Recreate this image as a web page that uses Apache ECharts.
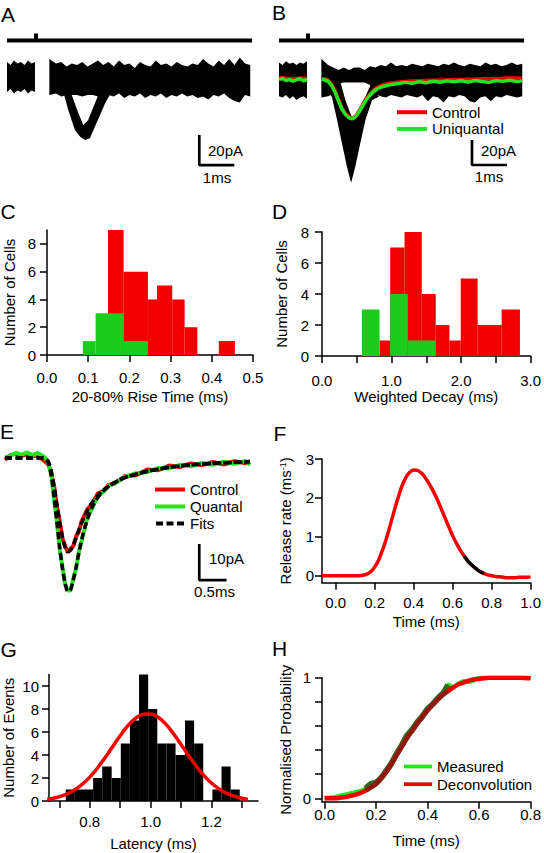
<!DOCTYPE html>
<html><head><meta charset="utf-8">
<script src="https://cdn.jsdelivr.net/npm/echarts@6/dist/echarts.min.js"></script>
<style>html,body{margin:0;padding:0;background:#fff}#c{width:544px;height:853px}</style>
</head><body><div id="c"></div>
<script>
// ================= DATA =================
// Panels A/B: stimulus trace (ms, pA)
const stimTime = [0, 0.83, 0.83, 0.83, 7.0];
const stimA = [26.3, 26.3, 31, 26.3, 26.3];
const stimB = [31.6, 31.6, 37.2, 31.6, 31.6];
// Panel A: noise band (pre-stimulus and post-stimulus), pA
const preT = [0, 0.1, 0.2, 0.3, 0.4, 0.5, 0.6, 0.7, 0.8];
const aPreUp = [12, 10, 13, 11, 12, 10, 13, 11, 12];
const aPreLo = [-8, -6, -9, -7, -8, -6, -9, -7, -8];
const bandT = [1.21, 1.4, 1.55, 1.7, 1.85, 2.0, 2.15, 2.3, 2.45, 2.6, 2.75, 2.9, 3.05, 3.2, 3.35, 3.5, 3.65, 3.8, 3.95, 4.1, 4.25, 4.4, 4.55, 4.7, 4.85, 5.0, 5.15, 5.3, 5.45, 5.6, 5.75, 5.9, 6.05, 6.2, 6.35, 6.5, 6.65, 6.8, 6.95];
const aUp = [14, 11, 12, 9, 11, 10, 12, 9, 11, 13, 10, 12, 9, 13, 10, 11, 8, 12, 10, 9, 13, 10, 11, 9, 12, 10, 9, 11, 10, 14, 11, 9, 13, 10, 14, 10, 15, 11, 10];
const aLo = [-10, -9, -11, -10, -10, -10, -11, -10, -10, -11, -12, -10, -11, -9, -12, -10, -11, -9, -12, -10, -11, -9, -12, -10, -11, -9, -11, -10, -12, -11, -13, -10, -11, -9, -12, -14, -15, -10, -11];
// Panel A: envelope of the evoked EPSCs
const aDipOutT = [1.55, 1.61, 1.75, 1.94, 2.09, 2.23, 2.37, 2.51, 2.66, 2.8, 2.94];
const aDipOutV = [-6, -8, -20, -33.3, -37.8, -40, -38.9, -31.1, -23.3, -15.6, -9.8];
const aDipInT = [1.85, 2.04, 2.18, 2.32, 2.47, 2.61];
const aDipInV = [-10, -22.2, -30, -26.7, -17.8, -10];
// Panel B: noise band, pA
const bPreUp = [14, 12, 15, 13, 14, 12, 14, 13, 15];
const bPreLo = [-13, -14, -12, -15, -13, -16, -14, -13, -15];
const bUp = [17, 12, 10, 8, 10, 8, 10, 10, 8, 11, 10, 12, 11, 14, 11, 12, 11, 13, 12, 11, 13, 12, 11, 13, 12, 14, 12, 11, 13, 12, 11, 14, 12, 13, 11, 12, 14, 12, 13];
const bLo = [-14, -13, -11, -3, -2, -2, -2, -2, -2, -4, -11, -13, -14, -12, -13, -14, -12, -13, -14, -12, -17, -13, -14, -18, -13, -14, -12, -13, -17, -18, -14, -13, -17, -13, -14, -12, -13, -14, -13];
const bDipOutT = [1.40, 1.51, 1.66, 1.80, 1.94, 2.06, 2.18, 2.32, 2.47, 2.66, 2.85];
const bDipOutV = [-10, -13.3, -32, -50.7, -69.3, -82.1, -69.3, -50.7, -32, -16, -13.3];
const bDipInT = [1.752, 1.895, 2.038, 2.086, 2.133, 2.276, 2.467, 2.657];
const bDipInV = [-1.3, -16, -26.7, -29.9, -29.3, -24, -13.3, -1.3];
// Panel B: averages
const bPreGreen = [0.5, 1.2, -0.5, 0.3, -1.0, 0.2, 1.0, -0.6, 0.4];
const bPreRed = [1.6, 1.9, 1.4, 1.2, 0.9, 1.2, 1.5, 1.6, 1.3];
const bAvgT = [1.23, 1.3, 1.4, 1.5, 1.6, 1.7, 1.8, 1.9, 2.0, 2.1, 2.2, 2.3, 2.4, 2.5, 2.6, 2.7, 2.8, 2.9, 3.0, 3.2, 3.4, 3.6, 3.8, 4.0, 4.2, 4.4, 4.6, 4.8, 5.0, 5.2, 5.4, 5.6, 5.8, 6.0, 6.2, 6.4, 6.6, 6.8, 6.94];
const bGreen = [0.6, 0, -1.0, -4.2, -9.6, -16.8, -23.4, -27.6, -30.2, -31.0, -29.0, -25.0, -20.2, -15.6, -12.2, -9.4, -7.2, -5.8, -5.0, -3.6, -2.9, -1.9, -2.6, -1.4, -2.2, -1.0, -1.8, -0.7, -1.4, -0.6, -1.7, -0.4, -1.2, -1.9, -0.5, -1.1, -0.2, -1.3, -0.7];
const bRed = [1.2, 1.0, 0, -3.4, -8.6, -15.8, -22.6, -27.1, -29.8, -30.5, -28.6, -24.2, -19.2, -14.6, -11.0, -8.2, -6.0, -4.6, -3.6, -2.4, -1.7, -1.2, -0.8, -0.6, -0.4, -0.2, 0, 0.1, 0.4, 0.5, 0.6, 0.7, 1.0, 1.1, 1.2, 1.4, 1.7, 1.6, 1.4];
// Scale bars: [time of corner, current of corner, ms length, pA length]
const scaleA = [5.494, -56.7, 1, 20];
const scaleB = [5.514, -68, 1, 20];
const scaleE = [3.552, -33.9, 0.5, 10];
// Panel C: 20-80% rise time histograms
const cRedLo = [0.148, 0.186, 0.245, 0.267, 0.304, 0.334, 0.417];
const cRedHi = [0.186, 0.245, 0.267, 0.304, 0.334, 0.365, 0.456];
const cRedN = [9, 6, 4, 5, 4, 2, 1];
const cGreenLo = [0.087, 0.118, 0.186];
const cGreenHi = [0.118, 0.186, 0.245];
const cGreenN = [1, 3, 1];
// Panel D: weighted decay histograms
const dRedLo = [0.828, 0.981, 1.187, 1.435, 1.636, 1.833, 1.995, 2.239, 2.584];
const dRedHi = [0.981, 1.187, 1.435, 1.636, 1.833, 1.995, 2.239, 2.584, 2.847];
const dRedN = [1, 7, 8, 4, 2, 1, 5, 2, 3];
const dGreenLo = [0.574, 0.981, 1.234];
const dGreenHi = [0.828, 1.234, 1.636];
const dGreenN = [3, 4, 1];
// Panel E: averaged traces and fits (ms, pA)
const eTime = [0, 0.1, 0.2, 0.3, 0.4, 0.5, 0.6, 0.7, 0.75, 0.8, 0.85, 0.9, 0.95, 1.0, 1.05, 1.1, 1.15, 1.2, 1.25, 1.3, 1.35, 1.4, 1.5, 1.6, 1.7, 1.8, 1.9, 2.0, 2.2, 2.4, 2.6, 2.8, 3.0, 3.2, 3.4, 3.6, 3.8, 4.0, 4.2, 4.4, 4.48];
const eControl = [-0.5, 0.8, 1.2, 0.6, 1.0, 0.4, 0.8, -0.6, -1.2, -2.0, -4.5, -8.0, -13.5, -17.6, -22.3, -24.5, -26.2, -25.2, -24.4, -21.8, -20.4, -17.6, -14.4, -12.6, -9.8, -9.2, -7.4, -7.1, -5.0, -4.8, -3.2, -3.4, -2.1, -2.5, -1.5, -2.0, -1.1, -1.8, -0.9, -1.5, -1.2];
const eQuantal = [0.2, 0.6, 1.5, 0.9, 1.6, 0.8, 1.4, 0.5, -0.2, -1.8, -5.0, -11.6, -17.6, -25.2, -30.2, -35.1, -36.9, -36.7, -33.5, -30.6, -26.1, -23.1, -17.0, -13.7, -10.6, -9.4, -7.6, -7.2, -5.2, -4.2, -3.9, -2.8, -2.9, -1.9, -2.3, -1.4, -1.9, -1.0, -1.6, -0.8, -2.0];
const eFitControl = [0, 0, 0, 0, 0, 0, 0, 0, -0.3, -1.2, -3.9, -8.3, -13.1, -18.0, -21.9, -24.8, -26.0, -25.6, -24.1, -22.2, -20.0, -18.1, -14.8, -12.2, -10.4, -8.9, -7.8, -6.8, -5.4, -4.5, -3.7, -3.1, -2.6, -2.2, -1.9, -1.7, -1.5, -1.3, -1.2, -1.1, -1.0];
const eFitQuantal = [0, 0, 0, 0, 0, 0, 0, 0, -0.4, -1.6, -5.3, -11.2, -18.0, -24.8, -30.6, -34.8, -37.1, -36.5, -33.8, -30.3, -26.4, -22.8, -17.3, -13.4, -10.9, -9.1, -7.9, -6.9, -5.4, -4.5, -3.7, -3.1, -2.6, -2.2, -1.9, -1.7, -1.5, -1.3, -1.2, -1.1, -1.0];
// Panel F: release rate
const fTime = [-0.07, -0.04, -0.02, 0, 0.02, 0.04, 0.06, 0.08, 0.10, 0.12, 0.14, 0.16, 0.18, 0.20, 0.22, 0.24, 0.26, 0.28, 0.30, 0.32, 0.34, 0.36, 0.38, 0.40, 0.42, 0.44, 0.46, 0.48, 0.50, 0.52, 0.54, 0.56, 0.58, 0.60, 0.62, 0.64, 0.66, 0.68, 0.70, 0.72, 0.74, 0.76, 0.78, 0.80, 0.82, 0.84, 0.86, 0.88, 0.90, 0.92, 0.94, 0.96, 0.98, 1.00];
const fRate = [0, 0, 0, 0, 0, 0, 0, 0, 0, 0, 0.01, 0.04, 0.10, 0.22, 0.40, 0.65, 0.95, 1.30, 1.66, 2.00, 2.30, 2.52, 2.66, 2.72, 2.71, 2.64, 2.52, 2.36, 2.18, 1.97, 1.74, 1.50, 1.26, 1.03, 0.83, 0.65, 0.50, 0.37, 0.27, 0.18, 0.11, 0.06, 0.02, 0.0, -0.02, -0.03, -0.04, -0.05, -0.05, -0.05, -0.04, -0.04, -0.04, -0.03];
const fBlackRange = [0.655, 0.77];
// Panel G: latency histogram and gaussian
const gEdges = [0.721, 0.751, 0.781, 0.811, 0.841, 0.872, 0.902, 0.932, 0.962, 0.992, 1.022, 1.052, 1.082, 1.113, 1.143, 1.173, 1.203, 1.233, 1.263, 1.293];
const gCounts = [1, 1, 1, 2, 3, 2, 5, 7, 11, 8, 5, 5, 4, 7, 5, 0, 1, 3, 1];
const gFitT = [0.66, 0.68, 0.70, 0.72, 0.74, 0.76, 0.78, 0.80, 0.82, 0.84, 0.86, 0.88, 0.90, 0.92, 0.94, 0.96, 0.98, 1.00, 1.02, 1.04, 1.06, 1.08, 1.10, 1.12, 1.14, 1.16, 1.18, 1.20, 1.22, 1.24, 1.26, 1.28, 1.30, 1.32];
const gFitV = [0.15, 0.24, 0.37, 0.55, 0.81, 1.14, 1.56, 2.08, 2.69, 3.39, 4.14, 4.92, 5.68, 6.37, 6.95, 7.36, 7.57, 7.57, 7.36, 6.95, 6.37, 5.68, 4.92, 4.14, 3.39, 2.69, 2.08, 1.56, 1.14, 0.81, 0.55, 0.37, 0.24, 0.15];
// Panel H: cumulative probability
const hTime = [0, 0.02, 0.04, 0.06, 0.08, 0.10, 0.12, 0.14, 0.16, 0.18, 0.20, 0.22, 0.24, 0.26, 0.28, 0.30, 0.32, 0.34, 0.36, 0.38, 0.40, 0.42, 0.44, 0.46, 0.48, 0.50, 0.52, 0.54, 0.56, 0.58, 0.60, 0.62, 0.64, 0.66, 0.68, 0.70, 0.72, 0.74, 0.76, 0.78, 0.80];
const hDeconv = [0, 0, 0, 0.005, 0.01, 0.02, 0.03, 0.045, 0.065, 0.09, 0.12, 0.17, 0.22, 0.29, 0.36, 0.43, 0.50, 0.56, 0.62, 0.68, 0.73, 0.78, 0.82, 0.86, 0.89, 0.92, 0.945, 0.96, 0.975, 0.985, 0.99, 0.995, 1.0, 1.0, 1.0, 1.0, 1.0, 1.0, 1.0, 0.998, 0.995];
const hMeasured = [0, 0.005, 0.01, 0.02, 0.03, 0.04, 0.05, 0.06, 0.08, 0.12, 0.13, 0.17, 0.23, 0.29, 0.37, 0.44, 0.52, 0.57, 0.63, 0.68, 0.74, 0.78, 0.83, 0.87, 0.94, 0.92, 0.95, 0.97, 0.965, 0.98, 1.0, 1.0, 1.0, 1.0, 1.0, 1.0, 1.0, 1.0, 1.0, 1.0, 1.0];
const hOverlapRange = [0.16, 0.48];

// ================= STYLE / HELPERS =================
const FONT = 'Liberation Sans, Arial, sans-serif';
const RED = '#f20000', GREEN = '#22e622', GREEN_BAR = '#1ccc1c';
const pairs = (xs, ys) => xs.map((x, i) => [x, ys[i]]);
const inRange = (xs, ys, r) => pairs(xs, ys).filter(p => p[0] >= r[0] - 1e-9 && p[0] <= r[1] + 1e-9);

function lineS(g, name, data, color, width, extra) {
  return Object.assign({
    type: 'line', name: name, xAxisIndex: g, yAxisIndex: g, data: data, symbol: 'none',
    silent: true, smooth: false, lineStyle: { color: color, width: width }, itemStyle: { color: color }
  }, extra || {});
}
function polyS(g, xsA, ysA, xsB, ysB, color) {
  return {
    type: 'custom', xAxisIndex: g, yAxisIndex: g, silent: true, data: [[xsA[0], ysA[0]]],
    renderItem: (params, api) => {
      const pts = xsA.map((x, i) => api.coord([x, ysA[i]]));
      for (let i = xsB.length - 1; i >= 0; i--) pts.push(api.coord([xsB[i], ysB[i]]));
      return { type: 'polygon', shape: { points: pts }, style: { fill: color } };
    }
  };
}
function histS(g, lo, hi, n, color) {
  return {
    type: 'custom', xAxisIndex: g, yAxisIndex: g, silent: true,
    data: lo.map((v, i) => [v, hi[i], n[i]]), encode: { x: [0, 1], y: 2 },
    renderItem: (params, api) => {
      const a = api.coord([api.value(0), api.value(2)]);
      const b = api.coord([api.value(1), 0]);
      return { type: 'rect', shape: { x: a[0], y: a[1], width: b[0] - a[0], height: b[1] - a[1] }, style: { fill: color } };
    }
  };
}
function scaleBar(g, s) {
  return lineS(g, '', [[s[0], s[1] + s[3]], [s[0], s[1]], [s[0] + s[2], s[1]]], '#000', 2.7);
}
const txt = { fontSize: 15, color: '#000', fontFamily: FONT };
function visAxis(g, min, max, name, gap, ticks, labels, fmt, margin, isY, extraName) {
  return {
    type: 'value', gridIndex: g, min: min, max: max, name: name, nameLocation: 'middle', nameGap: gap,
    nameRotate: isY ? 90 : 0,
    nameTextStyle: Object.assign({}, txt, extraName || {}),
    axisLine: { show: true, onZero: false, lineStyle: { color: '#000', width: 1.5 } },
    axisTick: { show: true, length: 7, customValues: ticks, lineStyle: { color: '#000', width: 1.5 } },
    axisLabel: Object.assign({ show: true, customValues: labels, formatter: fmt, margin: margin }, txt),
    splitLine: { show: false }
  };
}
const hidAxis = (g, min, max) => ({ type: 'value', gridIndex: g, min: min, max: max, show: false, splitLine: { show: false } });
const f1 = v => Number(v).toFixed(1);
const f0 = v => String(Math.round(v));

// ================= OPTION =================
const grids = [
  { left: 7, top: 28, width: 245, height: 170 },      // A
  { left: 279, top: 28, width: 245, height: 170 },    // B
  { left: 47, top: 230, width: 206, height: 125 },    // C
  { left: 322, top: 232, width: 209, height: 124 },   // D
  { left: 5, top: 440, width: 245, height: 165 },     // E
  { left: 322, top: 459, width: 210.5, height: 123.7 }, // F
  { left: 49, top: 674.5, width: 209, height: 126.5 },  // G
  { left: 322, top: 677.7, width: 210, height: 124 }    // H
];

const xAxes = [
  hidAxis(0, 0, 7),
  hidAxis(1, 0, 7),
  visAxis(2, 0, 0.5, '20-80% Rise Time (ms)', 34, [0, 0.1, 0.2, 0.3, 0.4, 0.5], [0, 0.1, 0.2, 0.3, 0.4, 0.5], f1, 15, false),
  visAxis(3, 0, 3, 'Weighted Decay (ms)', 33, [0, 0.5, 1, 1.5, 2, 2.5, 3], [0, 1, 2, 3], f1, 17, false),
  hidAxis(4, 0, 4.48),
  visAxis(5, -0.07, 1.0, 'Time (ms)', 31, [0, 0.2, 0.4, 0.6, 0.8, 1.0], [0, 0.2, 0.4, 0.6, 0.8, 1.0], f1, 12.5, false),
  visAxis(6, 0.666, 1.353, 'Latency (ms)', 35, [0.7, 0.8, 0.9, 1.0, 1.1, 1.2, 1.3], [0.8, 1.0, 1.2], f1, 13, false),
  visAxis(7, -0.01, 0.8, 'Time (ms)', 31, [0, 0.2, 0.4, 0.6, 0.8], [0, 0.2, 0.4, 0.6, 0.8], f1, 5, false)
];
const yAxes = [
  hidAxis(0, -118 / 1.5, 52 / 1.5),
  hidAxis(1, -118 / 1.25, 52 / 1.25),
  visAxis(2, 0, 9, 'Number of Cells', 30, [0, 2, 4, 6, 8], [0, 2, 4, 6, 8], f0, 11, true),
  visAxis(3, 0, 8, 'Number of Cells', 33, [0, 2, 4, 6, 8], [0, 2, 4, 6, 8], f0, 13, true),
  hidAxis(4, -147 / 3.6, 18 / 3.6),
  visAxis(5, -0.18, 3, 'Release rate (ms{sup|-1})', 29, [0, 1, 2, 3], [0, 1, 2, 3], f0, 8, true,
    { rich: { sup: { fontSize: 9, fontFamily: FONT, color: '#000', verticalAlign: 'top', padding: [0, 0, 6, 0] } } }),
  visAxis(6, 0, 11, 'Number of Events', 33, [0, 2, 4, 6, 8, 10], [0, 2, 4, 6, 8, 10], f0, 10, true),
  visAxis(7, -0.028, 1.0, 'Normalised Probability', 29, [0, 0.2, 0.4, 0.6, 0.8, 1.0], [0, 1], f0, 11, true)
];

const series = [
  // A
  lineS(0, '', pairs(stimTime, stimA), '#000', 4),
  polyS(0, preT, aPreUp, preT, aPreLo, '#000'),
  polyS(0, bandT, aUp, bandT, aLo, '#000'),
  polyS(0, aDipOutT, aDipOutV, aDipInT, aDipInV, '#000'),
  scaleBar(0, scaleA),
  // B
  lineS(1, '', pairs(stimTime, stimB), '#000', 4),
  polyS(1, preT, bPreUp, preT, bPreLo, '#000'),
  polyS(1, bandT, bUp, bandT, bLo, '#000'),
  polyS(1, bDipOutT, bDipOutV, bDipInT, bDipInV, '#000'),
  lineS(1, 'Control', pairs(preT, bPreRed), RED, 3.5),
  lineS(1, 'Control', pairs(bAvgT, bRed), RED, 3.5),
  lineS(1, 'Uniquantal', pairs(preT, bPreGreen), GREEN, 3.5),
  lineS(1, 'Uniquantal', pairs(bAvgT, bGreen), GREEN, 3.5),
  scaleBar(1, scaleB),
  // C
  histS(2, cRedLo, cRedHi, cRedN, RED),
  histS(2, cGreenLo, cGreenHi, cGreenN, GREEN_BAR),
  // D
  histS(3, dRedLo, dRedHi, dRedN, RED),
  histS(3, dGreenLo, dGreenHi, dGreenN, GREEN_BAR),
  // E
  lineS(4, 'Control', pairs(eTime, eControl), RED, 4),
  lineS(4, 'Quantal', pairs(eTime, eQuantal), GREEN, 4),
  lineS(4, 'Fits', pairs(eTime, eFitControl), '#000', 3.5, { lineStyle: { color: '#000', width: 3.5, type: [7, 3.5] }, smooth: 0.3 }),
  lineS(4, 'Fits', pairs(eTime, eFitQuantal), '#000', 3.5, { lineStyle: { color: '#000', width: 3.5, type: [7, 3.5] }, smooth: 0.3 }),
  scaleBar(4, scaleE),
  // F
  lineS(5, '', pairs(fTime, fRate), RED, 3.5, { smooth: 0.3 }),
  lineS(5, '', inRange(fTime, fRate, fBlackRange), '#000', 3.5, { smooth: 0.3 }),
  // G
  histS(6, gEdges.slice(0, -1), gEdges.slice(1), gCounts, '#000'),
  lineS(6, '', pairs(gFitT, gFitV), RED, 3.5, { smooth: 0.3 }),
  // H
  lineS(7, 'Measured', pairs(hTime, hMeasured), GREEN, 4.5, { smooth: 0.2 }),
  lineS(7, '', inRange(hTime, hMeasured, hOverlapRange), '#2e6b1e', 6, { smooth: 0.2 }),
  lineS(7, 'Deconvolution', pairs(hTime, hDeconv), RED, 4.5, { smooth: 0.3 }),
  lineS(7, '', inRange(hTime, hDeconv, hOverlapRange), '#8c1a10', 4.5, { smooth: 0.3 })
];

const BAR_ICON = 'path://M0,0h30v4h-30z';
const DASH_ICON = 'path://M0,0h7v4h-7zM10.5,0h7v4h-7zM21,0h7v4h-7z';
const legendBase = {
  orient: 'vertical', padding: 0, itemWidth: 30, itemHeight: 4, selectedMode: false,
  icon: BAR_ICON,
  textStyle: Object.assign({ lineHeight: 14 }, txt)
};
const legends = [
  Object.assign({}, legendBase, { left: 397, top: 104.7, itemGap: 1.7, data: ['Control', 'Uniquantal'] }),
  Object.assign({}, legendBase, { left: 155, top: 482, itemGap: 2, data: ['Control', 'Quantal', { name: 'Fits', icon: DASH_ICON }] }),
  Object.assign({}, legendBase, { left: 404, top: 759, itemWidth: 28, itemGap: 2.7, data: ['Measured', 'Deconvolution'] })
];

const labels = [
  ['A', 1, 14, 21, 'left'], ['B', 272, 12.5, 21, 'left'], ['C', 0.5, 211, 21, 'left'], ['D', 272, 211, 21, 'left'],
  ['E', 0, 431, 21, 'left'], ['F', 273.5, 433, 21, 'left'], ['G', 0.5, 649.5, 21, 'left'], ['H', 272, 648.5, 21, 'left'],
  ['20pA', 208, 150, 15, 'left'], ['1ms', 217, 177.5, 15, 'center'],
  ['20pA', 481, 150.3, 15, 'left'], ['1ms', 489, 176.7, 15, 'center'],
  ['10pA', 209, 558.3, 15, 'left'], ['0.5ms', 214.5, 591, 15, 'center']
];

const option = {
  animation: false,
  backgroundColor: '#fff',
  grid: grids,
  xAxis: xAxes,
  yAxis: yAxes,
  legend: legends,
  series: series,
  graphic: labels.map(l => ({
    type: 'text', x: l[1], y: l[2], silent: true,
    style: { text: l[0], fontSize: l[3], fontFamily: FONT, fill: '#000', align: l[4], verticalAlign: 'middle' }
  }))
};
const chart = echarts.init(document.getElementById('c'), null, { renderer: 'svg' });
chart.setOption(option);
</script>
</body></html>
